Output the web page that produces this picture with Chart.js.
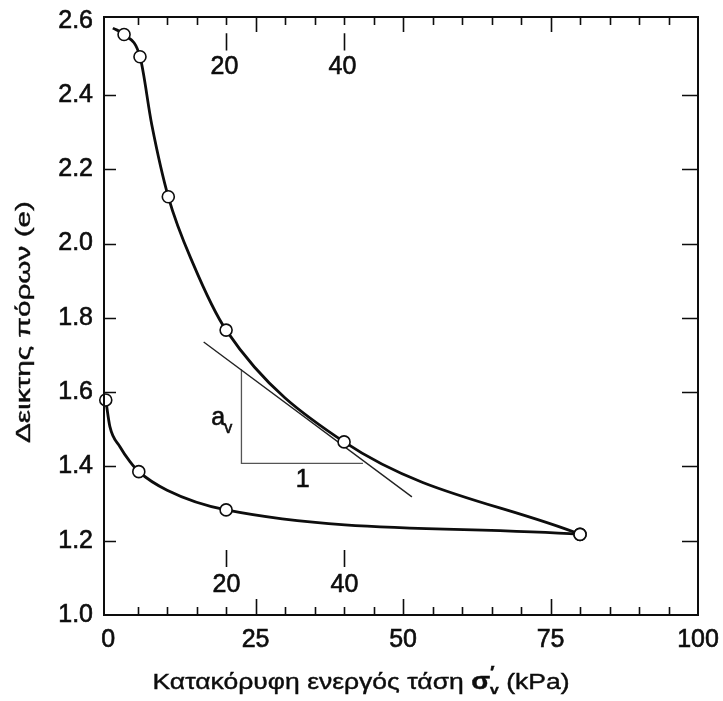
<!DOCTYPE html>
<html>
<head>
<meta charset="utf-8">
<script src="https://cdn.jsdelivr.net/npm/chart.js@4.4.0/dist/chart.umd.min.js"></script>
<style>
    html, body { margin: 0; padding: 0; background: #fff; }
    #wrap { width: 723px; height: 701px; }
</style>
</head>
<body>
<div id="wrap"><canvas id="chart"></canvas></div>
<script>
// καμπύλη φόρτισης (e - σ'v), σημεία με κύκλο και ενδιάμεσα σημεία της καμπύλης
const load_x = [0.8, 2.7, 5.4, 7.4, 10.2, 14.4, 20, 40, 80];
const load_y = [2.58, 2.563, 2.503, 2.32, 2.126, 1.946, 1.767, 1.466, 1.217];
const load_marker = [0, 6, 6, 0, 6, 0, 6, 6, 6];

// καμπύλη αποφόρτισης
const unload_x = [-0.4, 0.3, 2.0, 3.7, 5.2, 10, 20, 80];
const unload_y = [1.579, 1.507, 1.453, 1.413, 1.386, 1.336, 1.283, 1.217];
const unload_marker = [6, 0, 0, 0, 6, 0, 6, 6];

// εφαπτομένη και τρίγωνο κλίσης a_v
const tangent_x = [16.2, 51.5];
const tangent_y = [1.735, 1.318];
const triangle_x = [22.6, 22.6, 43.2];
const triangle_y = [1.661, 1.408, 1.408];

// άξονες
const x_ticks = [0, 25, 50, 75, 100];
const y_ticks = [1.0, 1.2, 1.4, 1.6, 1.8, 2.0, 2.2, 2.4, 2.6];
const stress_marks = [20, 40];

const x_title = ["Κατακόρυφη ενεργός τάση ", "σ", "′", "v", " (kPa)"];
const y_title = "Δεικτης πόρων (e)";

const FONT = "'Liberation Sans', Arial, Helvetica, sans-serif";
const INK = '#0d0d0d';
const TEXT_STROKE = 0.6;
const TITLE_STROKE = 0.4;

function toPoints(xs, ys) {
    let res = [];
    for (let i = 0; i < xs.length; i++) {
        res.push({ x: xs[i], y: ys[i] });
    }
    return res;
}

// γράμματα λίγο πιο έντονα, όπως στο σκαναρισμένο πρωτότυπο
function drawText(ctx, text, x, y) {
    ctx.fillText(text, x, y);
    ctx.strokeText(text, x, y);
}

const framePlugin = {
    id: 'frame',
    afterDraw(chart) {
        const ctx = chart.ctx;
        const a = chart.chartArea;
        const xs = chart.scales.x;
        const ys = chart.scales.y;
        ctx.save();
        ctx.strokeStyle = INK;
        ctx.fillStyle = INK;

        // πλαίσιο
        ctx.lineWidth = 2;
        ctx.strokeRect(a.left, a.top, a.right - a.left, a.bottom - a.top);

        // εσωτερικές υποδιαιρέσεις
        ctx.lineWidth = 1.6;
        ctx.beginPath();
        for (let v = 5; v < 100; v += 5) {
            const px = Math.round(xs.getPixelForValue(v)) + 0.5;
            const major = v % 25 === 0;
            ctx.moveTo(px, a.bottom);
            ctx.lineTo(px, a.bottom - (major ? 16 : 8));
            ctx.moveTo(px, a.top);
            ctx.lineTo(px, a.top + (major ? 15 : 8));
        }
        for (let v of y_ticks) {
            if (v <= 1.0 || v >= 2.6) continue;
            const py = Math.round(ys.getPixelForValue(v)) + 0.5;
            ctx.moveTo(a.left, py);
            ctx.lineTo(a.left + 12, py);
            ctx.moveTo(a.right, py);
            ctx.lineTo(a.right - 16, py);
        }
        ctx.stroke();

        // σημάνσεις 20 / 40 πάνω και κάτω
        ctx.font = '25px ' + FONT;
        ctx.textAlign = 'center';
        ctx.textBaseline = 'middle';
        for (let v of stress_marks) {
            const px = Math.round(xs.getPixelForValue(v)) + 0.5;
            ctx.lineWidth = 1.6;
            ctx.beginPath();
            ctx.moveTo(px, ys.getPixelForValue(2.566));
            ctx.lineTo(px, ys.getPixelForValue(2.52));
            ctx.moveTo(px, ys.getPixelForValue(1.129));
            ctx.lineTo(px, ys.getPixelForValue(1.175));
            ctx.stroke();
            ctx.lineWidth = TEXT_STROKE;
            drawText(ctx, String(v), px - 2, ys.getPixelForValue(2.474));
            drawText(ctx, String(v), px, ys.getPixelForValue(1.08));
        }

        // a_v και 1
        ctx.lineWidth = TEXT_STROKE;
        ctx.textAlign = 'left';
        ctx.textBaseline = 'alphabetic';
        ctx.font = '25px ' + FONT;
        drawText(ctx, 'a', xs.getPixelForValue(17.5), ys.getPixelForValue(1.511));
        ctx.font = '16px ' + FONT;
        drawText(ctx, 'v', xs.getPixelForValue(19.7), ys.getPixelForValue(1.489));
        ctx.font = '25px ' + FONT;
        ctx.textAlign = 'center';
        ctx.textBaseline = 'middle';
        drawText(ctx, '1', xs.getPixelForValue(33), ys.getPixelForValue(1.363));

        // τίτλος άξονα x
        ctx.lineWidth = TITLE_STROKE;
        ctx.textAlign = 'left';
        ctx.textBaseline = 'alphabetic';
        let parts = [
            { text: x_title[0], font: '22px ' + FONT },
            { text: x_title[1], font: 'bold 23px ' + FONT },
            { text: x_title[2], font: 'bold 16px ' + FONT, dy: -11 },
            { text: x_title[3], font: 'bold 13px ' + FONT, dy: 5 },
            { text: x_title[4], font: '22px ' + FONT }
        ];
        ctx.save();
        ctx.translate(361, 689);
        let natural = 0;
        for (let i = 0; i < parts.length; i++) {
            if (i === 2) continue;
            ctx.font = parts[i].font;
            natural += ctx.measureText(parts[i].text).width;
        }
        ctx.scale(417 / natural, 1);
        let x0 = -natural / 2;
        for (let i = 0; i < parts.length; i++) {
            const p = parts[i];
            ctx.font = p.font;
            drawText(ctx, p.text, x0, p.dy || 0);
            if (i !== 2) x0 += ctx.measureText(p.text).width; // ο τόνος πάνω από το v
        }
        ctx.restore();

        // τίτλος άξονα y
        ctx.save();
        ctx.lineWidth = TITLE_STROKE;
        ctx.translate(30, 322);
        ctx.rotate(-Math.PI / 2);
        ctx.font = '21px ' + FONT;
        const yw = ctx.measureText(y_title).width;
        ctx.scale(242 / yw, 1);
        drawText(ctx, y_title, -yw / 2, 0);
        ctx.restore();

        ctx.restore();
    }
};

const curveStyle = {
    showLine: true,
    borderColor: INK,
    borderWidth: 2.8,
    cubicInterpolationMode: 'monotone',
    pointBackgroundColor: '#fff',
    pointBorderColor: INK,
    pointBorderWidth: 1.6,
    clip: 10
};

const tickFont = {
    color: INK,
    font: { family: FONT, size: 25 },
    textStrokeColor: INK,
    textStrokeWidth: TEXT_STROKE,
    autoSkip: false
};

new Chart(document.getElementById('chart'), {
    type: 'scatter',
    data: {
        datasets: [
            Object.assign({ data: toPoints(load_x, load_y), pointRadius: load_marker }, curveStyle),
            Object.assign({ data: toPoints(unload_x, unload_y), pointRadius: unload_marker }, curveStyle),
            {
                data: toPoints(tangent_x, tangent_y),
                showLine: true,
                borderColor: '#222',
                borderWidth: 1.4,
                pointRadius: 0
            },
            {
                data: toPoints(triangle_x, triangle_y),
                showLine: true,
                borderColor: '#555',
                borderWidth: 1.3,
                pointRadius: 0
            }
        ]
    },
    options: {
        responsive: true,
        maintainAspectRatio: false,
        animation: false,
        layout: { padding: { top: 17, right: 25, left: 0, bottom: 0 } },
        plugins: {
            legend: { display: false },
            tooltip: { enabled: false }
        },
        scales: {
            x: {
                type: 'linear',
                min: -0.7,
                max: 100,
                grid: { display: false, drawTicks: false },
                border: { display: false },
                afterBuildTicks: s => { s.ticks = x_ticks.map(v => ({ value: v })); },
                afterFit: s => {
                    s.height = 86;
                    s.paddingLeft = 0;
                    s.paddingRight = 0;
                },
                ticks: Object.assign({ padding: 10, maxRotation: 0 }, tickFont)
            },
            y: {
                type: 'linear',
                min: 1.0,
                max: 2.61,
                grid: { display: false, drawTicks: false },
                border: { display: false },
                afterBuildTicks: s => { s.ticks = y_ticks.map(v => ({ value: v })); },
                afterFit: s => {
                    s.width = 104;
                    s.paddingTop = 0;
                    s.paddingBottom = 0;
                },
                ticks: Object.assign({ padding: 11, callback: v => Number(v).toFixed(1) }, tickFont)
            }
        }
    },
    plugins: [framePlugin]
});
</script>
</body>
</html>
